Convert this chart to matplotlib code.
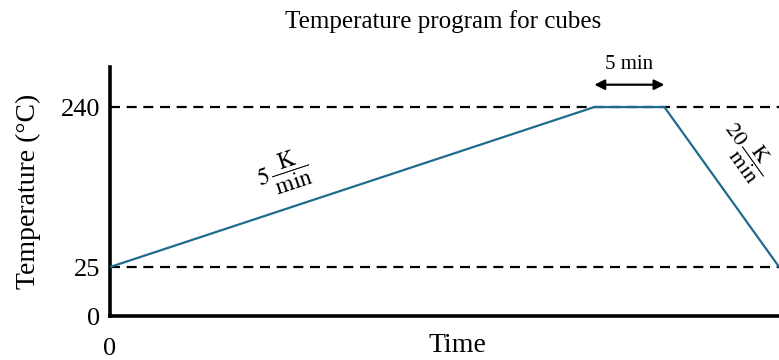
import matplotlib.pyplot as plt

# Temperaturprogramm (schematisch)
zeit = [0, 34.6, 39.6, 47.8]
temperatur = [25, 240, 240, 25]
y_ticks = [25, 240]
haltezeit = 5

plt.rcParams['font.family'] = ['Liberation Serif', 'DejaVu Serif']
plt.rcParams['mathtext.fontset'] = 'stix'

fig = plt.figure(figsize=(7.79, 3.6), dpi=100)
ax = fig.add_axes([0.1412, 0.1222, 0.886, 0.6917])

linie = '#1f6b8e'
ax.plot(zeit, temperatur, color=linie, lw=1.6, zorder=3)
for t in y_ticks:
    ax.axhline(t, color='black', lw=1.6, ls=(0, (4.5, 3)), zorder=2)

ax.set_xlim(0, 49.3)
y_unten = -40.8
ax.set_ylim(y_unten, 293.8)

ax.spines['top'].set_visible(False)
ax.spines['right'].set_visible(False)
ax.spines['left'].set_linewidth(2.6)
ax.spines['bottom'].set_linewidth(2.6)

ax.set_yticks([y_unten] + y_ticks)
ax.set_yticklabels(['0'] + [str(t) for t in y_ticks])
ax.set_xticks([0])
ax.set_xticklabels(['0'])
ax.tick_params(axis='y', length=0, pad=7, labelsize=19)
ax.tick_params(axis='x', length=0, pad=16, labelsize=19)

ax.set_ylabel('Temperature (°C)', fontsize=20, labelpad=14)
ax.set_xlabel('Time', fontsize=20)
ax.xaxis.set_label_coords(0.504, -0.07)

fig.text(0.569, 0.94, 'Temperature program for cubes', fontsize=18,
         ha='center', va='center')

# Haltezeit-Pfeil
y_pfeil = 270
ax.annotate('', xy=(zeit[1], y_pfeil), xytext=(zeit[1] + haltezeit, y_pfeil),
            arrowprops=dict(arrowstyle='<|-|>', color='black', lw=1.6,
                            mutation_scale=15, shrinkA=0, shrinkB=0),
            annotation_clip=False)
ax.text(zeit[1] + haltezeit / 2, 285, f'{haltezeit} min', fontsize=15,
        ha='center', va='bottom', clip_on=False)

# Heiz- und Kühlraten
ax.text(12.4, 152, r'$5\,\dfrac{\mathrm{K}}{\mathrm{min}}$', fontsize=17,
        rotation=18.3, ha='center', va='center', rotation_mode='anchor')
ax.text(45.4, 182, r'$20\,\dfrac{\mathrm{K}}{\mathrm{min}}$', fontsize=16,
        rotation=-54.5, ha='center', va='center', rotation_mode='anchor')

fig.savefig('out.png', dpi=100)
